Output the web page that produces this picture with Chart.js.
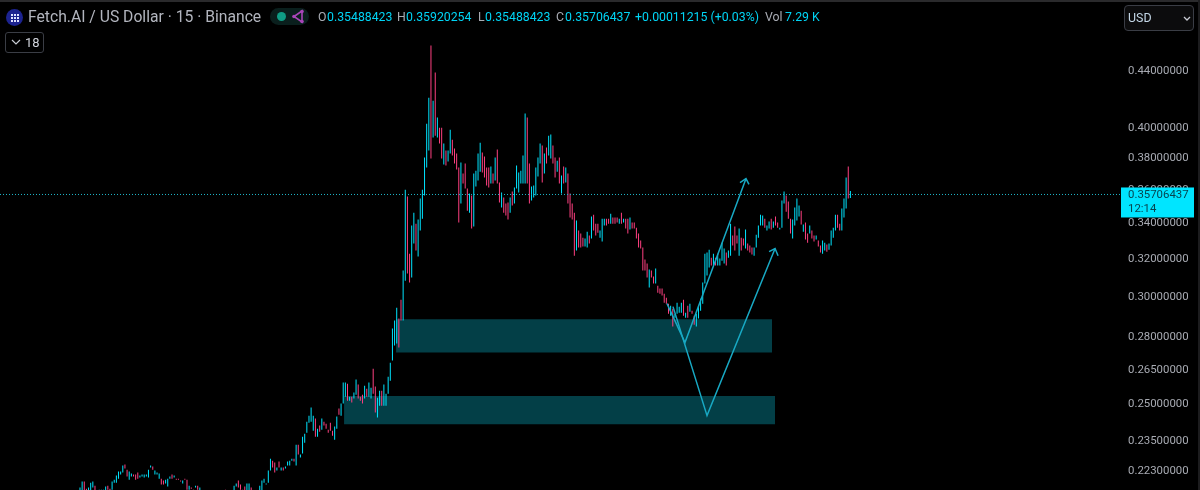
<!DOCTYPE html>
<html>
<head>
<meta charset="utf-8">
<title>Fetch.AI / US Dollar</title>
<script src="https://cdn.jsdelivr.net/npm/chart.js@4/dist/chart.umd.min.js"></script>
<style>
  html, body { margin: 0; padding: 0; background: #000; }
  #wrap { position: relative; width: 1200px; height: 490px; overflow: hidden; background: #000; font-family: Roboto, sans-serif; }
  #wrap canvas { position: absolute; left: 0; top: 0; }
  .edge-top { position: absolute; left: 0; top: 0; width: 1200px; height: 2px; background: #2a2a2c; }
  .edge-right { position: absolute; right: 0; top: 0; width: 2px; height: 490px; background: #1c1c1e; }
  .txt { position: absolute; top: 9px; font-size: 12.3px; line-height: 16px; white-space: nowrap; color: #00d4f5; }
  .lbl { color: #a8abb3; }
  #title { left: 28px; top: 8px; font-size: 15.7px; line-height: 18px; color: #b2b5be; }
  #logo { position: absolute; left: 6px; top: 9px; width: 17px; height: 17px; border-radius: 50%; background: #1c2390; }
  #logo i { position: absolute; width: 2px; height: 2px; background: #dfe2ff; }
  #pill { position: absolute; left: 270px; top: 8px; width: 39px; height: 17px; border-radius: 9px; background: #0a1f1d; }
  #pill b { position: absolute; left: 7px; top: 4px; width: 9px; height: 9px; border-radius: 50%; background: #0f9d85; }
  #pill svg { position: absolute; left: 21px; top: 1px; }
  #collapse { position: absolute; left: 5px; top: 32px; width: 37px; height: 19px; border: 1px solid #3a3d45; border-radius: 3px; color: #d1d4dc; font-size: 13px; line-height: 19px; }
  #collapse span { position: absolute; left: 19px; top: 0; }
  #collapse svg { position: absolute; left: 5px; top: 6px; }
  #currency { position: absolute; left: 1124px; top: 5px; width: 68px; height: 24px; border: 1px solid #3a3d45; border-radius: 4px; background: #0c0c0d; color: #c3d6e6; font-size: 12.4px; line-height: 24px; }
  #currency span { position: absolute; left: 3px; top: 0; }
  #currency svg { position: absolute; left: 58px; top: 10px; }
</style>
</head>
<body>
<div id="wrap">
  <canvas id="priceChart"></canvas>
  <div class="edge-top"></div>
  <div class="edge-right"></div>
  <div id="logo"></div>
  <div class="txt" id="title">Fetch.AI / US Dollar · 15 · Binance</div>
  <div id="pill"><b></b>
    <svg width="14" height="15" viewBox="0 0 14 15" fill="none">
      <path d="M11 2L3 7.5L11 13Z" stroke="#a845b8" stroke-width="1.6"/>
      <circle cx="11" cy="2.5" r="1.8" fill="#a845b8"/><circle cx="3" cy="7.5" r="1.8" fill="#a845b8"/><circle cx="11" cy="12.5" r="1.8" fill="#a845b8"/>
    </svg>
  </div>
  <div class="txt lbl" style="left:318px">O</div><div class="txt" id="valO" style="left:327px"></div>
  <div class="txt lbl" style="left:397px">H</div><div class="txt" id="valH" style="left:406px"></div>
  <div class="txt lbl" style="left:478px">L</div><div class="txt" id="valL" style="left:485px"></div>
  <div class="txt lbl" style="left:556px">C</div><div class="txt" id="valC" style="left:565px"></div>
  <div class="txt" id="valChange" style="left:635px"></div>
  <div class="txt lbl" style="left:765px">Vol</div><div class="txt" id="valVol" style="left:785px"></div>
  <div id="collapse">
    <svg width="10" height="6" viewBox="0 0 10 6" fill="none"><path d="M1 1L5 5L9 1" stroke="#c8cbd3" stroke-width="1.2"/></svg>
    <span>18</span>
  </div>
  <div id="currency"><span>USD</span>
    <svg width="8" height="5" viewBox="0 0 8 5" fill="none"><path d="M1 1L4 4L7 1" stroke="#c8cbd3" stroke-width="1.3"/></svg>
  </div>
</div>
<script>
// last bar, as shown in the legend
const lastOpen = 0.35488423;
const lastHigh = 0.35920254;
const lastLow = 0.35488423;
const lastClose = 0.35706437;
const lastChange = '+0.00011215 (+0.03%)';
const lastVolume = '7.29 K';
const countdown = '12:14';

const tickValues = [0.44, 0.40, 0.38, 0.36, 0.34, 0.32, 0.30, 0.28, 0.265, 0.25, 0.235, 0.223];

const highs = [
  0.2170,0.2192,0.2192,0.2166,0.2170,0.2188,0.2192,0.2177,0.2159,0.2162,0.2162,0.2162,0.2174,0.2177,0.2166,0.2192,0.2199,0.2215,0.2230,
  0.2230,0.2253,0.2257,0.2237,0.2230,0.2222,0.2219,0.2219,0.2226,0.2215,0.2219,0.2219,0.2219,0.2237,0.2253,0.2249,0.2234,0.2226,0.2222,
  0.2203,0.2196,0.2199,0.2203,0.2211,0.2219,0.2215,0.2203,0.2203,0.2196,0.2196,0.2203,0.2199,0.2177,0.2170,0.2162,0.2177,0.2177,0.2170,
  0.2151,0.2148,0.2144,0.2148,0.2151,0.2148,0.2141,0.2144,0.2148,0.2151,0.2151,
  0.2162,0.2155,0.2155,0.2159,0.2177,0.2185,0.2196,0.2181,0.2162,0.2174,0.2185,0.2185,0.2170,0.2155,0.2155,0.2155,0.2177,0.2196,0.2203,0.2185,
  0.2234,0.2279,0.2271,0.2264,0.2245,0.2268,0.2245,0.2245,0.2249,0.2268,0.2271,0.2279,0.2279,0.2334,0.2334,0.2295,0.2366,0.2378,0.2427,0.2452,
  0.2486,0.2452,0.2440,0.2398,0.2411,0.2440,0.2427,0.2419,0.2394,0.2423,0.2390,0.2407,0.2448,0.2482,0.2503,0.2594,0.2594,0.2589,0.2532,0.2532,
  0.2550,0.2607,0.2585,0.2532,0.2541,0.2580,0.2567,0.2594,0.2571,0.2656,0.2576,0.2528,0.2558,0.2558,0.2585,0.2545,0.2620,0.2683,
  0.2843,0.2882,0.2946,0.2892,0.2986,0.3138,0.3600,0.3558,0.3229,0.3387,0.3462,0.3398,0.3422,0.3546,0.3600,0.3802,0.4027,0.4209,0.4599,0.4188,
  0.4393,0.4069,0.4000,0.4000,0.3893,0.3847,0.3847,0.3986,0.3919,0.3860,0.3828,0.3738,0.3770,0.3700,0.3763,0.3607,0.3576,0.3564,0.3700,0.3718,
  0.3828,0.3899,0.3834,0.3808,0.3738,0.3738,0.3744,0.3700,0.3802,0.3854,0.3644,0.3582,0.3552,0.3516,0.3522,0.3552,0.3588,0.3613,0.3751,0.3706,
  0.3718,0.3815,0.4097,0.4069,0.3763,0.3619,0.3625,0.3738,0.3802,0.3893,0.3880,0.3828,0.3867,0.3946,0.3953,0.3880,0.3802,0.3782,0.3802,0.3687,
  0.3744,0.3738,0.3700,0.3576,0.3516,0.3462,0.3416,0.3358,0.3341,0.3318,0.3313,0.3352,0.3330,0.3439,0.3450,0.3398,0.3398,
  0.3358,0.3427,0.3427,0.3427,0.3427,0.3456,0.3433,0.3433,0.3433,0.3427,0.3462,0.3427,0.3427,0.3427,0.3433,0.3404,0.3404,0.3375,0.3341,0.3302,
  0.3263,0.3197,0.3175,0.3143,0.3138,0.3106,0.3148,0.3058,0.3043,0.3043,0.3017,0.2996,0.2966,0.2956,0.2941,0.2916,0.2971,0.2951,0.2971,0.2986,
  0.2921,0.2956,0.2966,0.2931,0.2906,0.2916,0.2956,0.2991,0.3074,0.3229,0.3235,0.3251,0.3207,0.3229,0.3207,0.3229,0.3202,0.3290,0.3257,0.3235,
  0.3246,0.3398,0.3330,0.3381,0.3330,0.3370,0.3318,0.3313,0.3364,0.3285,0.3274,0.3263,0.3263,0.3335,0.3387,0.3450,0.3445,0.3427,0.3387,0.3410,
  0.3427,0.3410,0.3439,0.3404,0.3375,0.3534,0.3588,0.3564,0.3528,0.3427,0.3422,0.3492,0.3546,0.3504,0.3474,0.3393,0.3404,0.3341,0.3387,0.3358,0.3330,
  0.3330,0.3302,0.3274,0.3302,0.3290,0.3279,0.3285,0.3358,0.3375,0.3450,0.3450,0.3398,0.3486,0.3546,0.3675,0.3744,
  lastHigh
];

const lows = [
  0.2151,0.2159,0.2159,0.2151,0.2155,0.2159,0.2170,0.2155,0.2144,0.2151,0.2151,0.2151,0.2159,0.2162,0.2151,0.2162,0.2188,0.2188,0.2203,
  0.2219,0.2226,0.2241,0.2211,0.2199,0.2211,0.2211,0.2199,0.2203,0.2207,0.2211,0.2207,0.2211,0.2207,0.2245,0.2237,0.2219,0.2219,0.2203,
  0.2181,0.2181,0.2185,0.2174,0.2203,0.2203,0.2207,0.2199,0.2199,0.2192,0.2185,0.2199,0.2162,0.2162,0.2166,0.2155,0.2170,0.2162,0.2159,
  0.2141,0.2137,0.2133,0.2141,0.2137,0.2133,0.2130,0.2133,0.2137,0.2141,0.2144,
  0.2151,0.2148,0.2144,0.2151,0.2159,0.2174,0.2170,0.2162,0.2155,0.2159,0.2159,0.2159,0.2159,0.2148,0.2148,0.2148,0.2159,0.2159,0.2188,0.2181,
  0.2188,0.2234,0.2245,0.2226,0.2234,0.2245,0.2234,0.2234,0.2241,0.2253,0.2253,0.2271,0.2268,0.2253,0.2295,0.2284,0.2299,0.2342,0.2382,0.2423,
  0.2427,0.2390,0.2366,0.2366,0.2386,0.2394,0.2411,0.2398,0.2382,0.2390,0.2370,0.2354,0.2398,0.2456,0.2452,0.2503,0.2532,0.2515,0.2515,0.2507,
  0.2524,0.2541,0.2524,0.2515,0.2503,0.2524,0.2532,0.2532,0.2524,0.2545,0.2465,0.2444,0.2494,0.2494,0.2494,0.2494,0.2545,0.2602,
  0.2693,0.2762,0.2772,0.2753,0.2882,0.2882,0.3084,0.3122,0.3074,0.3101,0.3285,0.3246,0.3213,0.3358,0.3427,0.3564,0.3738,0.3847,0.3795,0.3933,
  0.3946,0.3933,0.3893,0.3795,0.3757,0.3751,0.3776,0.3828,0.3815,0.3763,0.3725,0.3404,0.3516,0.3638,0.3607,0.3474,0.3462,0.3370,0.3381,0.3619,
  0.3656,0.3712,0.3706,0.3675,0.3625,0.3613,0.3638,0.3638,0.3656,0.3638,0.3522,0.3492,0.3462,0.3445,0.3422,0.3462,0.3504,0.3516,0.3607,0.3582,
  0.3638,0.3638,0.3638,0.3638,0.3516,0.3534,0.3552,0.3564,0.3681,0.3763,0.3644,0.3700,0.3763,0.3815,0.3795,0.3763,0.3675,0.3712,0.3638,0.3576,
  0.3638,0.3644,0.3516,0.3433,0.3422,0.3218,0.3246,0.3263,0.3263,0.3268,0.3268,0.3263,0.3285,0.3313,0.3358,0.3330,0.3346,
  0.3318,0.3296,0.3387,0.3387,0.3398,0.3398,0.3398,0.3398,0.3404,0.3398,0.3398,0.3404,0.3370,0.3341,0.3364,0.3370,0.3370,0.3313,0.3263,0.3257,
  0.3138,0.3138,0.3101,0.3048,0.3101,0.3069,0.3069,0.3022,0.3017,0.3007,0.2971,0.2966,0.2916,0.2906,0.2853,0.2896,0.2916,0.2921,0.2921,0.2906,
  0.2896,0.2896,0.2926,0.2916,0.2862,0.2853,0.2892,0.2931,0.2966,0.3069,0.3111,0.3154,0.3165,0.3165,0.3165,0.3165,0.3165,0.3191,0.3175,0.3165,
  0.3207,0.3218,0.3274,0.3246,0.3285,0.3218,0.3246,0.3274,0.3257,0.3246,0.3235,0.3224,0.3218,0.3263,0.3318,0.3387,0.3387,0.3375,0.3358,0.3370,
  0.3364,0.3375,0.3387,0.3375,0.3364,0.3375,0.3516,0.3468,0.3427,0.3341,0.3313,0.3387,0.3416,0.3439,0.3393,0.3352,0.3307,0.3290,0.3341,0.3313,0.3296,
  0.3307,0.3268,0.3235,0.3229,0.3246,0.3240,0.3251,0.3274,0.3318,0.3358,0.3375,0.3358,0.3358,0.3433,0.3486,0.3546,
  lastLow
];

// 1 closed above its open, 0 closed below
const rising = [
  1,1,0,0,1,1,1,0,0,1,1,1,1,0,0,1,1,1,1,
  1,1,0,0,1,1,0,0,0,1,1,1,1,1,1,0,1,1,1,
  0,0,1,1,1,0,1,0,0,0,1,0,0,1,0,0,1,0,1,
  0,1,0,1,1,0,0,1,1,1,1,
  0,0,1,1,1,1,0,0,0,0,1,1,0,1,1,1,1,1,1,1,
  1,1,0,0,1,0,1,0,1,1,1,1,0,1,0,1,1,1,1,1,
  1,1,0,1,0,1,0,0,0,0,0,1,1,0,1,1,1,0,1,0,
  1,1,0,0,0,1,0,1,1,0,0,1,1,0,1,1,1,1,
  1,1,1,0,0,1,1,0,0,1,1,0,1,1,1,1,1,1,0,1,
  0,1,0,0,1,0,1,1,0,0,0,0,1,0,0,0,1,0,1,1,
  1,1,0,0,0,0,1,0,1,0,0,1,0,0,0,1,0,1,1,1,
  1,1,1,0,0,1,1,1,1,1,0,1,0,1,1,0,0,1,0,1,
  0,1,0,0,0,0,1,0,0,0,1,1,0,1,0,0,0,
  1,1,1,0,0,1,0,0,0,1,0,1,0,0,1,0,0,0,0,0,
  0,0,0,1,0,0,1,0,0,0,0,0,0,1,0,1,1,1,1,0,
  1,0,1,0,0,1,1,1,1,1,1,1,0,1,0,1,1,1,1,0,
  1,1,0,0,0,1,0,0,1,0,0,0,1,1,1,1,1,0,1,1,
  0,1,0,0,1,1,1,0,0,0,1,1,1,1,0,1,0,0,1,0,0,
  1,0,0,1,1,0,1,1,1,1,0,0,1,1,1,0,
  1
];

// supply / demand boxes, bar index and price
const zoneFrom = [147.7, 123.4];
const zoneTo = [323.4, 324.8];
const zoneTop = [0.2888, 0.2535];
const zoneBottom = [0.2730, 0.2416];

// hand drawn projection paths with their arrow heads
const pathOneBars = [274.3, 282.7, 311.2];
const pathOnePrices = [0.2966, 0.2776, 0.3668];
const headOneBars = [308.4, 311.2, 312.6];
const headOnePrices = [0.3644, 0.3668, 0.3632];
const pathTwoBars = [277.1, 293.0, 324.8];
const pathTwoPrices = [0.2951, 0.2452, 0.3257];
const headTwoBars = [322.0, 324.8, 326.2];
const headTwoPrices = [0.3240, 0.3257, 0.3218];

const UP = '#00e5ff';
const DOWN = '#ff4081';
const ZONE = '#033f47';
const DRAWING = '#18a9c4';

const toPoints = (xs, ys) => xs.map((x, i) => ({ x: x, y: ys[i] }));

const xMin = -37.38;
const xMax = 485.98;

function zoneDataset(i) {
  return {
    type: 'line',
    data: toPoints([zoneFrom[i], zoneTo[i]], [zoneTop[i], zoneTop[i]]),
    borderWidth: 0,
    pointRadius: 0,
    backgroundColor: ZONE,
    fill: { value: zoneBottom[i] },
    order: 5
  };
}

function drawingDataset(points) {
  return {
    type: 'line',
    data: points,
    borderColor: DRAWING,
    borderWidth: 1.5,
    pointRadius: 0,
    tension: 0,
    fill: false,
    order: 1
  };
}

// price box on the axis, drawn over the tick labels
const lastPriceTag = {
  id: 'lastPriceTag',
  afterDraw(chart) {
    const { ctx, scales } = chart;
    const y = scales.y.getPixelForValue(lastClose);
    ctx.save();
    ctx.fillStyle = '#00e5ff';
    ctx.fillRect(1121, y - 7, 73, 30);
    ctx.fillStyle = '#07444f';
    ctx.font = '11.4px Roboto, sans-serif';
    ctx.textBaseline = 'middle';
    ctx.fillText(lastClose.toFixed(8), 1128, y + 1);
    ctx.fillText(countdown, 1128, y + 15);
    ctx.restore();
  }
};

document.getElementById('valO').textContent = lastOpen.toFixed(8);
document.getElementById('valH').textContent = lastHigh.toFixed(8);
document.getElementById('valL').textContent = lastLow.toFixed(8);
document.getElementById('valC').textContent = lastClose.toFixed(8);
document.getElementById('valChange').textContent = lastChange;
document.getElementById('valVol').textContent = lastVolume;

// little dotted square on the exchange logo
const logo = document.getElementById('logo');
[5, 8, 11].forEach(top => [5, 8, 11].forEach(left => {
  const dot = document.createElement('i');
  dot.style.top = top + 'px';
  dot.style.left = left + 'px';
  logo.appendChild(dot);
}));

const canvas = document.getElementById('priceChart');
canvas.width = 1200;
canvas.height = 490;

new Chart(canvas, {
  data: {
    datasets: [
      zoneDataset(0),
      zoneDataset(1),
      {
        type: 'bar',
        data: highs.map((h, i) => ({ x: i, y: [lows[i], h] })),
        backgroundColor: rising.map(r => (r ? UP : DOWN)),
        barThickness: 1,
        borderWidth: 0,
        inflateAmount: 0,
        order: 3
      },
      {
        type: 'line',
        data: toPoints([xMin, xMax], [lastClose, lastClose]),
        borderColor: '#1fb6c9',
        borderWidth: 1,
        borderDash: [1, 2],
        pointRadius: 0,
        fill: false,
        order: 2
      },
      drawingDataset(toPoints(pathOneBars, pathOnePrices)),
      drawingDataset(toPoints(headOneBars, headOnePrices)),
      drawingDataset(toPoints(pathTwoBars, pathTwoPrices)),
      drawingDataset(toPoints(headTwoBars, headTwoPrices))
    ]
  },
  options: {
    responsive: false,
    animation: false,
    layout: { padding: 0 },
    events: [],
    scales: {
      x: {
        type: 'linear',
        min: xMin,
        max: xMax,
        offset: false,
        display: false
      },
      y: {
        type: 'logarithmic',
        position: 'right',
        min: 0.2161,
        max: 0.4969,
        grid: { display: false, drawTicks: false },
        border: { display: false },
        // fill the whole height, the price axis has no end padding here
        afterFit(scale) {
          scale.width = 80;
          scale.paddingTop = 0;
          scale.paddingBottom = 0;
        },
        afterBuildTicks(scale) { scale.ticks = tickValues.map(v => ({ value: v })); },
        ticks: {
          autoSkip: false,
          align: 'center',
          crossAlign: 'near',
          padding: 8,
          color: '#a8abb3',
          font: { family: 'Roboto, sans-serif', size: 11.4 },
          callback: v => Number(v).toFixed(8)
        }
      }
    },
    plugins: {
      legend: { display: false },
      tooltip: { enabled: false }
    }
  },
  plugins: [lastPriceTag]
});
</script>
</body>
</html>
